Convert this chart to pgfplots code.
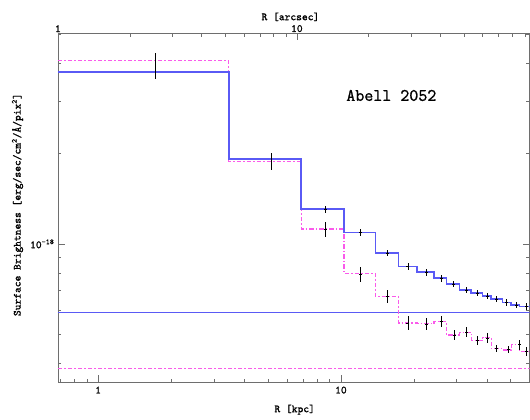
\documentclass[border=0pt]{standalone}
\usepackage{fontspec}
\usepackage{pgfplots}
\pgfplotsset{compat=1.18}
\newfontfamily\tfb[FakeBold=1.2]{Latin Modern Mono}
\definecolor{bl}{RGB}{90,90,245}
\definecolor{mg}{RGB}{250,90,235}
\definecolor{ax}{RGB}{110,110,110}
\newcommand{\lab}{\tfb\fontsize{11}{12}\selectfont}
\begin{document}
\begin{tikzpicture}
\begin{axis}[name=main,
  scale only axis, width=472pt, height=349.4pt,
  xmode=log, ymode=log,
  xmin=0.683, xmax=59.8, ymin=3.45e-19, ymax=5.04e-18,
  axis line style={ax, line width=0.8pt},
  tick style={ax, line width=0.7pt},
  major tick length=7pt, minor tick length=3.5pt,
  xtick pos=left, ytick pos=both,
  xtick={1,10}, xticklabels={1,10},
  minor xtick={0.7,0.8,0.9,2,3,4,5,6,7,8,9,20,30,40,50},
  ytick={1e-18}, yticklabels={10\textsuperscript{-18}},
  minor ytick={4e-19,5e-19,6e-19,7e-19,8e-19,9e-19,2e-18,3e-18,4e-18,5e-18},
  ticklabel style={font=\lab},
  xticklabel style={inner sep=1pt, yshift=-3pt},
  xlabel={R [kpc]},
  every axis x label/.style={at={(axis description cs:0.502,-0.078)}, anchor=center, font=\lab},
  ylabel={Surface Brightness [erg/sec/cm\textsuperscript{2}/Å/pix\textsuperscript{2}]},
  every axis y label/.style={at={(axis description cs:-0.0858,0.509)}, rotate=90, anchor=center, font=\lab},
  clip=true,
]
% magenta horizontal background level
\addplot[mg, line width=1.3pt, dash pattern=on 4.5pt off 2pt on 1.5pt off 2pt] coordinates {(0.683,3.83e-19) (59.8,3.83e-19)};
% blue horizontal level
\addplot[bl, line width=1.3pt] coordinates {(0.683,5.89e-19) (59.8,5.89e-19)};
% magenta step profile
\addplot[mg, line width=1.3pt, const plot, dash pattern=on 4.5pt off 2pt on 1.5pt off 2pt] coordinates {
(0.683,4.083e-18) (3.45,1.880e-18) (6.87,1.122e-18) (10.29,7.98e-19) (13.86,6.67e-19)
(17.28,5.44e-19) (20.63,5.41e-19) (24.18,5.51e-19) (27.23,4.97e-19) (30.80,5.06e-19)
(34.41,4.76e-19) (38.30,4.86e-19) (41.59,4.47e-19) (46.29,4.43e-19) (50.25,4.61e-19)
(54.37,4.38e-19) (59.8,4.38e-19)};
% blue step profile
\addplot[bl, line width=1.7pt, const plot] coordinates {
(0.683,3.752e-18) (3.45,1.920e-18) (6.87,1.305e-18) (10.29,1.091e-18) (13.86,9.31e-19)
(17.28,8.40e-19) (20.63,8.04e-19) (24.18,7.68e-19) (27.23,7.34e-19) (30.80,7.03e-19)
(34.41,6.85e-19) (38.30,6.71e-19) (41.59,6.54e-19) (46.29,6.37e-19) (50.25,6.26e-19)
(54.37,6.18e-19) (59.8,6.18e-19)};
% error bars (inner bins)
\addplot[draw=none, mark=none,
  error bars/.cd, y dir=both, y explicit relative, error mark=none,
  error bar style={black, line width=0.8pt}] coordinates {
(1.722,3.95e-18) +- (0,0.10)
(5.19,1.884e-18) +- (0,0.065)};
% error bars on blue profile
\addplot[only marks, mark=-, mark size=1.5pt, black,
  error bars/.cd, y dir=both, y explicit relative, error mark=none,
  error bar style={black, line width=0.7pt}] coordinates {
(8.63,1.305e-18) +- (0,0.027)
(12.05,1.091e-18) +- (0,0.027)
(15.52,9.31e-19) +- (0,0.025)
(18.87,8.40e-19) +- (0,0.025)
(22.46,8.04e-19) +- (0,0.025)
(25.90,7.68e-19) +- (0,0.025)
(28.95,7.34e-19) +- (0,0.025)
(32.81,7.03e-19) +- (0,0.025)
(36.52,6.85e-19) +- (0,0.025)
(40.15,6.71e-19) +- (0,0.025)
(43.61,6.54e-19) +- (0,0.025)
(48.08,6.37e-19) +- (0,0.025)
(52.71,6.26e-19) +- (0,0.025)
(57.94,6.18e-19) +- (0,0.025)};
% error bars on magenta profile
\addplot[only marks, mark=-, mark size=1.5pt, black,
  error bars/.cd, y dir=both, y explicit relative, error mark=none,
  error bar style={black, line width=0.7pt}] coordinates {
(8.63,1.122e-18) +- (0,0.058)
(12.05,7.92e-19) +- (0,0.056)
(15.52,6.67e-19) +- (0,0.051)
(18.87,5.45e-19) +- (0,0.054)
(22.46,5.41e-19) +- (0,0.046)
(25.90,5.50e-19) +- (0,0.041)
(29.38,4.97e-19) +- (0,0.038)
(32.81,5.08e-19) +- (0,0.038)
(36.52,4.77e-19) +- (0,0.035)
(40.15,4.86e-19) +- (0,0.038)
(43.61,4.49e-19) +- (0,0.027)
(48.82,4.45e-19) +- (0,0.027)
(54.16,4.61e-19) +- (0,0.038)
(58.10,4.37e-19) +- (0,0.035)};
\node[font=\tfb\fontsize{17.5}{20}\selectfont, anchor=center] at (axis description cs:0.707,0.822) {Abell 2052};
\end{axis}
\begin{axis}[
  scale only axis, width=472pt, height=349.4pt,
  xmode=log, xmin=1, xmax=94.1, ymin=0, ymax=1,
  axis x line*=top, axis y line=none,
  axis line style={ax, line width=0.8pt},
  tick style={ax, line width=0.7pt},
  major tick length=7pt, minor tick length=3.5pt,
  xtick={1,10}, xticklabels={1,10},
  minor xtick={2,3,4,5,6,7,8,9,20,30,40,50,60,70,80,90},
  ticklabel style={font=\lab},
  xticklabel style={inner sep=1pt, yshift=0pt},
  xlabel={R [arcsec]},
  every axis x label/.style={at={(axis description cs:0.493,1.047)}, anchor=center, font=\lab},
]
\end{axis}
\pgfresetboundingbox
\path[use as bounding box] ([xshift=-58pt,yshift=-37.3pt]main.south west) rectangle ([xshift=0.5pt,yshift=33.3pt]main.north east);
\end{tikzpicture}
\end{document}
